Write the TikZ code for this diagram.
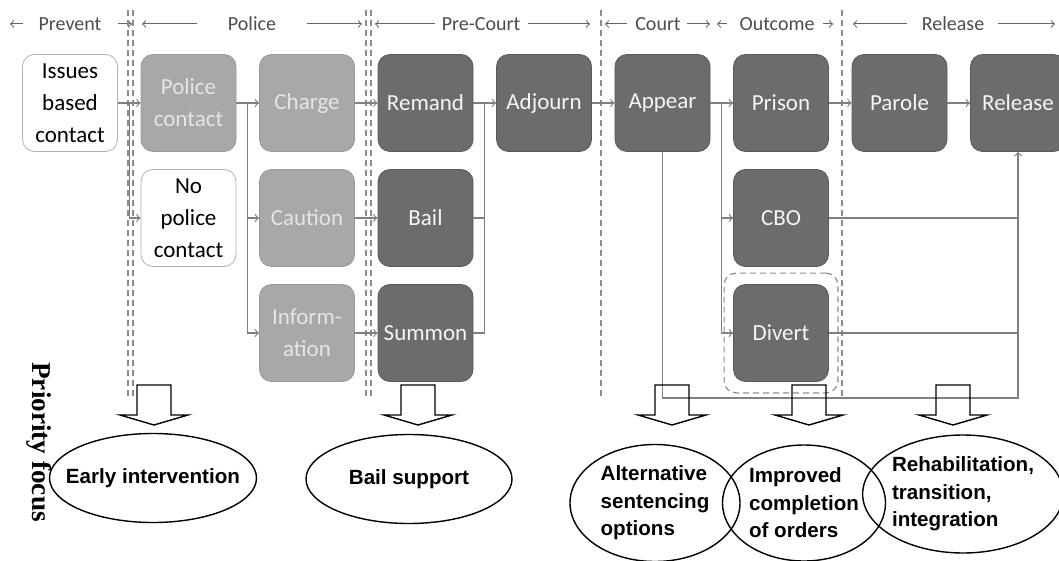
\documentclass[tikz,border=0pt]{standalone}
\usepackage{fontspec}
\setmainfont{Carlito}
\newfontfamily\focusfont{Liberation Sans}
\newfontfamily\sidefont{Liberation Serif}
\usetikzlibrary{positioning,shapes.geometric,fit}

\definecolor{policegray}{RGB}{168,168,168}
\definecolor{courtgray}{RGB}{108,108,108}
\definecolor{linegray}{RGB}{128,128,128}

\tikzset{
  stagebox/.style={rectangle,rounded corners=6pt,minimum width=47.5pt,minimum height=48.5pt,
    align=center,inner sep=1pt,font=\fontsize{11.5}{16}\selectfont},
  whitestage/.style={stagebox,draw=black!30,fill=white,text=black},
  policestage/.style={stagebox,draw=black!40,fill=policegray,text=black!10},
  courtstage/.style={stagebox,draw=black!65,fill=courtgray,text=black!4},
  flow/.style={->,draw=linegray,line width=0.6pt},
  joinline/.style={draw=linegray,line width=0.6pt},
  phase/.style={font=\fontsize{10}{12}\selectfont,text=black!70,inner sep=0pt},
  phasearrow/.style={->,draw=black!60,line width=0.5pt},
  border/.style={draw=black!45,line width=0.6pt,dash pattern=on 3pt off 2pt},
  focus/.style={ellipse,draw,line width=0.7pt,align=left,inner sep=0pt,
    font=\focusfont\bfseries\fontsize{10.3}{13.8}\selectfont},
}

\begin{document}
\begin{tikzpicture}[x=0.5pt,y=-0.5pt,on grid,node distance=57.5pt and 59.25pt,>=to]
\useasboundingbox (0,0) rectangle (1059,561);

% phase headings
\foreach \n/\t/\c/\la/\lb/\ra/\rb in {prevent/Prevent/70/23/10/118/132,
    police/Police/252/197/142/307/362,
    precourt/Pre-Court/481/435/375/528/590,
    court/Court/658/627/605/687/710,
    outcome/Outcome/777/727/717/823/833,
    release/Release/953/907/853/998/1055}{
  \node[phase] (h\n) at (\c,24) {\t};
  \coordinate (h\n l) at (\lb,24);
  \coordinate (h\n r) at (\rb,24);
  \draw[phasearrow] (\la,24) -- (h\n l);
  \draw[phasearrow] (\ra,24) -- (h\n r);
}

% stages
\node[whitestage] (issues) at (70,103) {Issues\\based\\contact};
\node[policestage] (police) [right=of issues] {Police\\contact};
\node[whitestage] (nopolice) [below=of police] {No\\police\\contact};
\node[policestage] (charge) [right=of police] {Charge};
\node[policestage] (caution) [below=of charge] {Caution};
\node[policestage] (info) [below=of caution] {Inform-\\ation};
\node[courtstage] (remand) [right=of charge] {Remand};
\node[courtstage] (bail) [below=of remand] {Bail};
\node[courtstage] (summon) [below=of bail] {Summon};
\node[courtstage] (adjourn) [right=of remand] {Adjourn};
\node[courtstage] (appear) [right=of adjourn] {Appear};
\node[courtstage] (prison) [right=of appear] {Prison};
\node[courtstage] (cbo) [below=of prison] {CBO};
\node[courtstage] (divert) [below=of cbo] {Divert};
\node[courtstage] (parole) [right=of prison] {Parole};
\node[courtstage] (release) [right=of parole] {Release};
\node[border,rounded corners=6pt,fit=(divert),inner xsep=4.5pt,inner ysep=5.5pt] (divertzone) {};

% phase borders
\foreach \x in {128,133,366,371,601,842}
  \draw[border] (\x,10) -- (\x,398);

% flows
\draw[flow] (issues) -- (police);
\path (issues.east) -- (police.west) coordinate[pos=0.5] (f1);
\draw[flow] (f1) |- (nopolice);
\draw[flow] (police) -- (charge);
\path (police.east) -- (charge.west) coordinate[pos=0.5] (f2);
\draw[flow] (f2) |- (caution);
\draw[flow] (f2) |- (info);
\draw[flow] (charge) -- (remand);
\draw[flow] (caution) -- (bail);
\draw[flow] (info) -- (summon);
\draw[flow] (remand) -- (adjourn);
\path (remand.east) -- (adjourn.west) coordinate[pos=0.5] (j1);
\draw[joinline] (bail) -| (j1);
\draw[joinline] (summon) -| (j1);
\draw[flow] (adjourn) -- (appear);
\draw[flow] (appear) -- (prison);
\path (appear.east) -- (prison.west) coordinate[pos=0.5] (f3);
\draw[flow] (f3) |- (cbo);
\draw[flow] (f3) |- (divert);
\draw[flow] (prison) -- (parole);
\draw[flow] (parole) -- (release);
\coordinate (low) at (660,398);
\draw[flow] (appear) -- (appear |- low) -| (release);
\draw[joinline] (cbo) -- (cbo -| release);
\draw[joinline] (divert) -- (divert -| release);

% block arrows to the priorities
\foreach \x in {154,418,672,809,953}
  \draw[line width=0.7pt] (\x-17,385) -- (\x+17,385) -- (\x+17,415) -- (\x+34,415)
    -- (\x,425) -- (\x-34,415) -- (\x-17,415) -- cycle;

% priorities
\node[rotate=-90,font=\sidefont\bfseries\fontsize{13.6}{16}\selectfont] (prio) at (39,442) {Priority focus};
\node[focus,inner xsep=-8pt,minimum width=103.5pt,minimum height=44.5pt] (early) at (153,478) {Early intervention};
\node[focus,minimum width=103pt,minimum height=44.5pt] (bailsup) at (409,479) {Bail support};
\node[focus,minimum width=85pt,minimum height=58.5pt] (altsent) at (655,503) {Alternative\\sentencing\\options};
\node[focus,minimum width=81.5pt,minimum height=58pt] (improved) at (804,503) {Improved\\completion\\of orders};
\node[focus,minimum width=95.5pt,minimum height=59pt] (rehab) at (963,494) {Rehabilitation,\\transition,\\integration};

\end{tikzpicture}
\end{document}
